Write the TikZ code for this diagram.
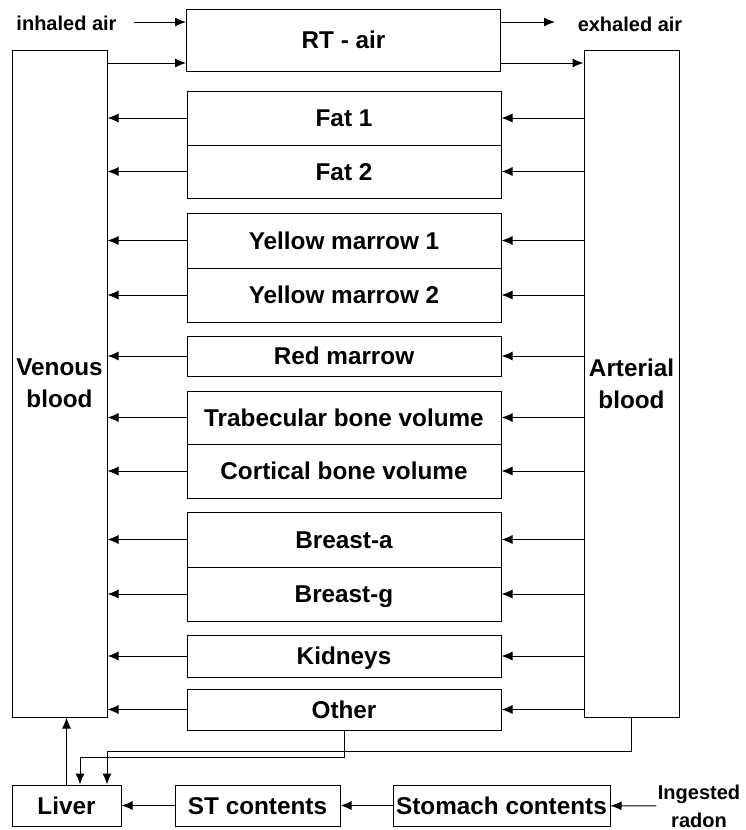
\documentclass[tikz,border=0pt]{standalone}
\usepackage{fontspec}
\usetikzlibrary{arrows.meta}
\setmainfont{Liberation Sans}
\newcommand{\boxfont}{\fontsize{24.3}{32}\selectfont\bfseries}
\newcommand{\sidefont}{\fontsize{20}{28}\selectfont\bfseries}
\tikzset{
  organ/.style={draw, minimum width=314pt, inner sep=1pt, text height=17.5pt, text depth=0pt, font=\boxfont},
  pool/.style={draw, minimum width=95pt, minimum height=667pt, align=center, font=\boxfont},
  gut/.style={draw, minimum height=41pt, inner sep=1pt, text height=17.5pt, text depth=0pt, font=\boxfont},
  side/.style={inner sep=1pt, align=center, font=\sidefont},
  flow/.style={-{Latex[length=11pt,width=9pt]}}
}
\begin{document}
\begin{tikzpicture}[x=1pt,y=-1pt,line width=1pt]
    \useasboundingbox (0,0) rectangle (745,830);
    % blood
    \node[pool] (venous) at (59.5,383.5) {Venous\\blood};
    \node[pool] (arterial) at (631.5,383.5) {Arterial\\blood};
    % lungs
    \node[organ, minimum height=62pt] (rtair) at (343.5,40) {RT - air};
    \node[side] (inhaled) at (66.5,23) {inhaled air};
    \node[side] (exhaled) at (630,24) {exhaled air};
    \coordinate (inhalestart) at (134,22);
    \coordinate (exhaleend) at (555,22);
    \path ([yshift=18pt]rtair.west) coordinate (airin1)
          ([yshift=-23pt]rtair.west) coordinate (airin2)
          ([yshift=-23pt]rtair.east) coordinate (airout);
    \draw[flow] (inhalestart) -- (airin1);
    \draw[flow] (inhalestart -| rtair.east) -- (exhaleend);
    \draw[flow] (venous.east |- airin2) -- (airin2);
    \draw[flow] (airout) -- (airout -| arterial.west);
    % tissues
    \node[organ, minimum height=54pt] (fat1) at (344,118) {Fat 1};
    \node[organ, minimum height=53pt] (fat2) at (344,171.5) {Fat 2};
    \node[organ, minimum height=55pt] (ym1) at (344,240.5) {Yellow marrow 1};
    \node[organ, minimum height=54pt] (ym2) at (344,295) {Yellow marrow 2};
    \node[organ, minimum height=40pt] (red) at (344,356) {Red marrow};
    \node[organ, minimum height=53pt] (trab) at (344,417.5) {Trabecular bone volume};
    \node[organ, minimum height=54pt] (cort) at (344,471) {Cortical bone volume};
    \node[organ, minimum height=55pt] (breasta) at (344,539.5) {Breast-a};
    \node[organ, minimum height=54pt] (breastg) at (344,594) {Breast-g};
    \node[organ, minimum height=42pt] (kidneys) at (344,656) {Kidneys};
    \node[organ, minimum height=41pt] (other) at (344,709.5) {Other};
    \foreach \o in {fat1,fat2,ym1,ym2,red,trab,cort,breasta,breastg,kidneys,other}{
        \draw[flow] (arterial.west |- \o) -- (\o.east);
        \draw[flow] (\o.west) -- (venous.east |- \o);
    }
    % gut
    \node[gut, minimum width=109pt] (liver) at (66.5,805.5) {Liver};
    \node[gut, minimum width=165pt] (st) at (257.5,805.5) {ST contents};
    \node[gut, minimum width=217pt] (stomach) at (501.5,805.5) {Stomach contents};
    \node[side] (ingested) at (699,806) {Ingested\\radon};
    \draw[flow] (ingested) -- (stomach);
    \draw[flow] (stomach) -- (st);
    \draw[flow] (st) -- (liver);
    \draw[flow] (liver.north) -- (liver.north |- venous.south);
    \coordinate (otherdrop) at (80,757);
    \coordinate (artdrop) at (107,751);
    \draw[flow] (other.south) |- (otherdrop) -- (otherdrop |- liver.north);
    \draw[flow] (arterial.south) |- (artdrop) -- (artdrop |- liver.north);
\end{tikzpicture}
\end{document}
